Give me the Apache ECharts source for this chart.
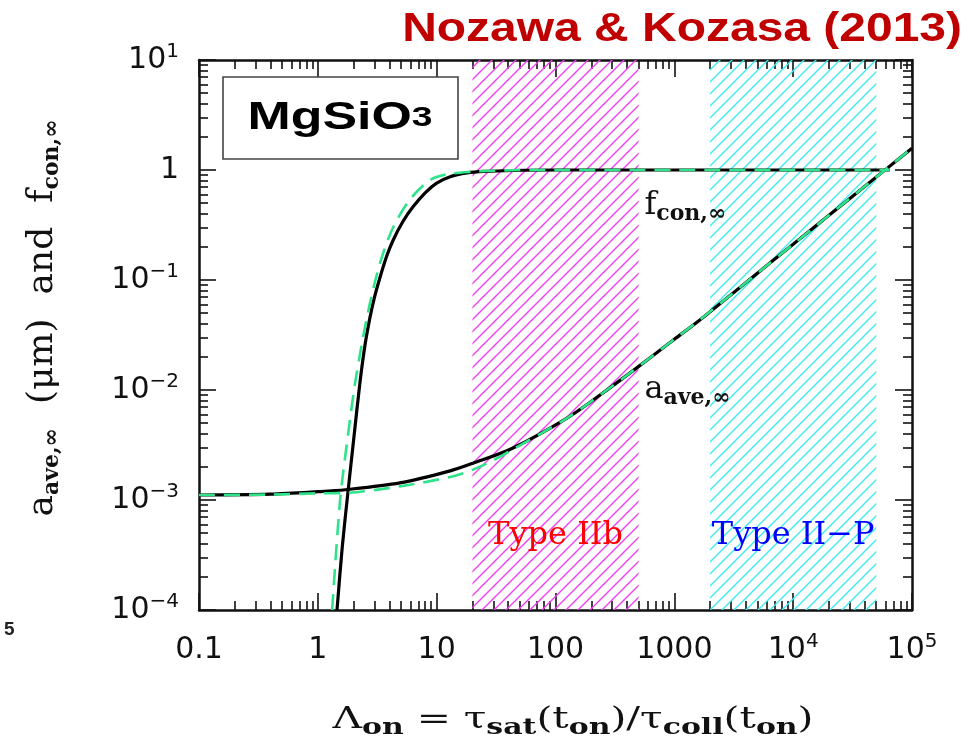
<!DOCTYPE html>
<html><head><meta charset="utf-8">
<script src="https://cdn.jsdelivr.net/npm/echarts@6/dist/echarts.min.js"></script>
<style>html,body{margin:0;padding:0;background:#fff}#c{width:971px;height:751px}</style>
</head><body><div id="c"></div>
<script>
// ---------- data ----------
const xMajor = [0.1, 1, 10, 100, 1000, 1e4, 1e5];
const xTickLabels = ['0.1', '1', '10', '100', '1000', '10^4', '10^5'];
const yMajor = [1e-4, 1e-3, 1e-2, 1e-1, 1, 10];
const yTickLabels = ['10^−4', '10^−3', '10^−2', '10^−1', '1', '10^1'];

const fconBlackX = [1.45, 1.6, 1.8, 2.0, 2.26, 2.5, 2.75, 3.0, 3.34, 3.8, 4.3, 5.2, 6.3, 8, 10, 13, 18, 25, 44, 100, 1000, 1e4, 6.5e4];
const fconBlackY = [1e-4, 3.6e-4, 1.23e-3, 3.5e-3, 0.0116, 0.026, 0.046, 0.07, 0.106, 0.165, 0.23, 0.34, 0.46, 0.62, 0.76, 0.87, 0.94, 0.97, 0.99, 1, 1, 1, 1];
const fconGreenX = [1.32, 1.54, 1.8, 2.06, 2.4, 2.75, 3.34, 4.3, 5.97, 8.8, 12, 20, 30, 60, 1000, 1e4, 6.5e4];
const fconGreenY = [1e-4, 1e-3, 4.0e-3, 0.0116, 0.03, 0.062, 0.143, 0.30, 0.54, 0.81, 0.91, 0.965, 0.985, 1, 1, 1, 1];

const aaveBlackX = [0.1, 0.4, 1, 1.7, 4.9, 13, 20, 43, 125, 237, 450, 1000, 1650, 3000, 6040, 1e4, 3e4, 6.2e4, 1e5];
const aaveBlackY = [1.11e-3, 1.13e-3, 1.19e-3, 1.24e-3, 1.43e-3, 1.84e-3, 2.15e-3, 2.94e-3, 5.56e-3, 9.0e-3, 0.015, 0.0289, 0.0436, 0.0736, 0.136, 0.211, 0.552, 1.04, 1.58];
const aaveGreenX = [0.1, 0.4, 1, 1.7, 4.9, 13, 20, 30, 43, 125, 237, 450, 1000, 1650, 3000, 6040, 1e4, 3e4, 6.2e4, 1e5];
const aaveGreenY = [1.11e-3, 1.12e-3, 1.15e-3, 1.16e-3, 1.33e-3, 1.62e-3, 1.88e-3, 2.30e-3, 2.85e-3, 5.56e-3, 9.0e-3, 0.015, 0.0289, 0.0436, 0.0736, 0.136, 0.211, 0.552, 1.04, 1.58];

const typeIIbRange = [20, 500];
const typeIIPRange = [2000, 5e4];
const regionLabels = ['Type IIb', 'Type II−P'];
const curveLabels = ['f', 'con,∞', 'a', 'ave,∞'];
const labelAnchorX = 560;
const fLabelY = 0.47;
const aLabelY = 0.0100;

// ---------- helpers ----------
const zip = (xs, ys) => xs.map((x, i) => [x, ys[i]]);
const minorOf = majors => {
  const out = [];
  for (let i = 0; i < majors.length - 1; i++) for (let k = 2; k <= 9; k++) out.push(majors[i] * k);
  return out;
};
const xMinor = minorOf(xMajor);
const yMinor = minorOf(yMajor);

function hatch(color) {
  const s = 12, c = document.createElement('canvas');
  c.width = s; c.height = s;
  const g = c.getContext('2d');
  g.strokeStyle = color; g.lineWidth = 1.4;
  g.beginPath();
  g.moveTo(-2, s + 2); g.lineTo(s + 2, -2);
  g.moveTo(-2, 2); g.lineTo(2, -2);
  g.moveTo(s - 2, s + 2); g.lineTo(s + 2, s - 2);
  g.stroke();
  return c;
}

const supRich = {
  b: { fontFamily: 'DejaVu Sans', fontSize: 30, color: '#111', lineHeight: 40 },
  s: { fontFamily: 'DejaVu Sans', fontSize: 20, color: '#111', padding: [0, 0, 16, 0] }
};
function supFmt(txt) {
  const p = txt.split('^');
  return p.length === 2 ? '{b|' + p[0] + '}{s|' + p[1] + '}' : '{b|' + txt + '}';
}
function labelFor(majors, labels) {
  return v => {
    const i = Math.round(Math.log10(v) - Math.log10(majors[0]));
    return supFmt(labels[i] || '');
  };
}

const AX = '#111';
function xAx(pos, major, showLine, showLabel, extra) {
  return Object.assign({
    type: 'log', logBase: 10, min: xMajor[0], max: xMajor[xMajor.length - 1], position: pos,
    axisLine: { show: showLine, onZero: false, lineStyle: { color: AX, width: 2.5 } },
    axisTick: { show: true, inside: true, length: major ? 17 : 9, customValues: major ? xMajor : xMinor,
      lineStyle: { color: AX, width: 1.6 } },
    axisLabel: showLabel ? { show: true, customValues: xMajor, formatter: labelFor(xMajor, xTickLabels),
      margin: 20, rich: supRich, hideOverlap: false, showMinLabel: true, showMaxLabel: true } : { show: false },
    splitLine: { show: false }, minorTick: { show: false }
  }, extra || {});
}
function yAx(pos, major, showLine, showLabel, extra) {
  return Object.assign({
    type: 'log', logBase: 10, min: yMajor[0], max: yMajor[yMajor.length - 1], position: pos,
    axisLine: { show: showLine, onZero: false, lineStyle: { color: AX, width: 2.5 } },
    axisTick: { show: true, inside: true, length: major ? 17 : 9, customValues: major ? yMajor : yMinor,
      lineStyle: { color: AX, width: 1.6 } },
    axisLabel: showLabel ? { show: true, customValues: yMajor, formatter: labelFor(yMajor, yTickLabels),
      margin: 20, rich: supRich, hideOverlap: false, showMinLabel: true, showMaxLabel: true } : { show: false },
    splitLine: { show: false }, minorTick: { show: false }
  }, extra || {});
}

const serif = 'DejaVu Serif';
const yTitleRich = {
  t: { fontFamily: serif, fontSize: 36, color: '#111', lineHeight: 44 },
  u: { fontFamily: serif, fontSize: 22, fontWeight: 'bold', color: '#111', padding: [18, 0, 0, 0] },
  g: { width: 24 }
};

const chart = echarts.init(document.getElementById('c'));
chart.setOption({
  animation: false,
  backgroundColor: '#fff',
  grid: { left: 199, right: 59, top: 60, bottom: 141 },
  xAxis: [
    xAx('bottom', true, true, true),
    xAx('bottom', false, false, false),
    xAx('top', true, true, false),
    xAx('top', false, false, false)
  ],
  yAxis: [
    yAx('left', true, true, true, {
      name: '{t|a}{u|ave,∞}{g|}{t|(μm)}{g|}{t|and}{g|}{t|f}{u|con,∞}',
      nameLocation: 'middle', nameGap: 134, nameRotate: 90,
      nameTextStyle: { rich: yTitleRich, padding: [0, 0, 0, 34] }
    }),
    yAx('left', false, false, false),
    yAx('right', true, true, false),
    yAx('right', false, false, false)
  ],
  series: [
    {
      type: 'line', name: 'regions', data: [], z: 1, silent: true,
      markArea: {
        silent: true,
        data: [
          [{ xAxis: typeIIbRange[0], itemStyle: { color: { image: hatch('#f23cf2'), repeat: 'repeat' } },
             label: { show: true, position: 'insideBottom', distance: 58, formatter: regionLabels[0],
                      color: '#ff0000', fontFamily: serif, fontSize: 32 } },
           { xAxis: typeIIbRange[1] }],
          [{ xAxis: typeIIPRange[0], itemStyle: { color: { image: hatch('#3cecf0'), repeat: 'repeat' } },
             label: { show: true, position: 'insideBottom', distance: 58, formatter: regionLabels[1],
                      color: '#0000ff', fontFamily: serif, fontSize: 32 } },
           { xAxis: typeIIPRange[1] }]
        ]
      }
    },
    {
      type: 'line', name: 'aave', data: zip(aaveBlackX, aaveBlackY), showSymbol: false, smooth: 0.3, z: 3,
      lineStyle: { color: '#000', width: 3.2 }
    },
    {
      type: 'line', name: 'fcon', data: zip(fconBlackX, fconBlackY), showSymbol: false, smooth: 0.3, z: 3,
      lineStyle: { color: '#000', width: 3.2 },
      markPoint: {
        symbol: 'circle', symbolSize: 0, silent: true,
        label: { show: true, position: 'right', distance: 0,
          rich: {
            m: { fontFamily: serif, fontSize: 32, color: '#111', lineHeight: 38 },
            s: { fontFamily: serif, fontSize: 22, fontWeight: 'bold', color: '#111', padding: [16, 0, 0, 0] }
          } },
        data: [
          { coord: [labelAnchorX, fLabelY], label: { formatter: '{m|' + curveLabels[0] + '}{s|' + curveLabels[1] + '}' } },
          { coord: [labelAnchorX, aLabelY], label: { formatter: '{m|' + curveLabels[2] + '}{s|' + curveLabels[3] + '}' } }
        ]
      }
    },
    {
      type: 'line', name: 'aaveFit', data: zip(aaveGreenX, aaveGreenY), showSymbol: false, smooth: 0.3, z: 4,
      lineStyle: { color: '#2fe38a', width: 2.6, type: [16, 9] }
    },
    {
      type: 'line', name: 'fconFit', data: zip(fconGreenX, fconGreenY), showSymbol: false, smooth: 0.3, z: 4,
      lineStyle: { color: '#2fe38a', width: 2.6, type: [16, 9] }
    }
  ],
  graphic: [
    { type: 'text', x: 962, y: 30, scaleX: 1.17, z: 10,
      style: { text: 'Nozawa & Kozasa (2013)', font: 'bold 41px "Liberation Sans"', fill: '#c00000',
               textAlign: 'right', textVerticalAlign: 'middle' } },
    { type: 'rect', z: 10, shape: { x: 223, y: 77, width: 235, height: 82 },
      style: { fill: '#fff', stroke: '#444', lineWidth: 1.6 } },
    { type: 'text', x: 340, y: 118, scaleX: 1.33, z: 11,
      style: { text: '{a|MgSiO}{b|3}', textAlign: 'center', textVerticalAlign: 'middle',
               rich: { a: { font: 'bold 39px "Liberation Sans"', fill: '#000' },
                       b: { font: 'bold 28px "Liberation Sans"', fill: '#000' } } } },
    { type: 'text', x: 573, y: 720, scaleX: 1.36, z: 10,
      style: { text: '{t|Λ}{u|on}{t| = τ}{u|sat}{t|(t}{u|on}{t|)/τ}{u|coll}{t|(t}{u|on}{t|)}',
               textAlign: 'center', textVerticalAlign: 'middle',
               rich: { t: { fontFamily: serif, fontSize: 30, fill: '#111', lineHeight: 40 },
                       u: { fontFamily: serif, fontSize: 22, fontWeight: 'bold', fill: '#111', padding: [16, 0, 0, 0] } } } },
    { type: 'text', x: 4, y: 620, z: 10,
      style: { text: '5', font: 'bold 19px "Liberation Sans"', fill: '#222' } }
  ]
});
</script></body></html>
